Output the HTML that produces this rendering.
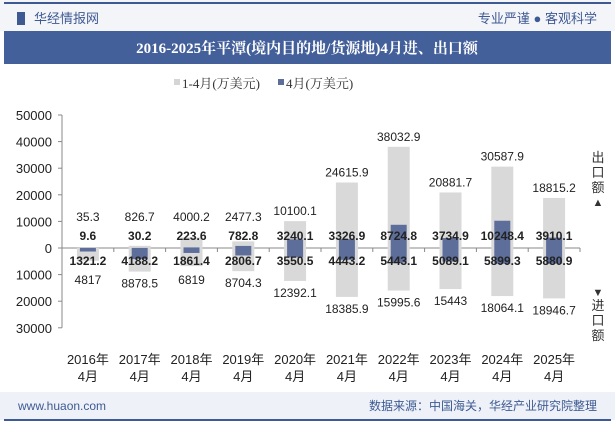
<!DOCTYPE html>
<html><head><meta charset="utf-8"><style>
body{margin:0;width:615px;height:427px;overflow:hidden;background:#fff;font-family:"Liberation Sans","Noto Sans CJK SC",sans-serif;}
</style></head><body>
<svg width="615" height="427" xmlns="http://www.w3.org/2000/svg" font-family="Liberation Sans, Noto Sans CJK SC, sans-serif">
<rect x="0" y="0" width="615" height="31" fill="#f4f5f9"/>
<rect x="4" y="2" width="607" height="2" fill="#3e5a93"/>
<rect x="17" y="12" width="8" height="13" fill="#3e5a93"/>
<text x="34" y="23" font-size="13" fill="#3e5a93">华经情报网</text>
<text x="597" y="23" font-size="13" fill="#3e5a93" text-anchor="end">专业严谨 ● 客观科学</text>
<rect x="4" y="31" width="607" height="33" fill="#44609a"/>
<text x="307" y="53" font-size="15" font-weight="bold" fill="#fff" text-anchor="middle" font-family="Liberation Serif, Noto Serif CJK SC, serif">2016-2025年平潭(境内目的地/货源地)4月进、出口额</text>
<rect x="174" y="79" width="6" height="6" fill="#d5d5d5"/>
<text x="182" y="88" font-size="13" fill="#333" font-family="Liberation Serif, Noto Serif CJK SC, serif">1-4月(万美元)</text>
<rect x="278" y="79" width="6" height="6" fill="#5d6e9b"/>
<text x="286" y="88" font-size="13" fill="#333" font-family="Liberation Serif, Noto Serif CJK SC, serif">4月(万美元)</text>
<g id="chart"></g>
<text font-size="13" fill="#333" text-anchor="middle"><tspan x="598" y="162">出</tspan><tspan x="598" y="177">口</tspan><tspan x="598" y="192">额</tspan><tspan x="598" y="206" font-size="11">▲</tspan></text>
<text font-size="13" fill="#333" text-anchor="middle"><tspan x="598" y="296" font-size="11">▼</tspan><tspan x="598" y="310">进</tspan><tspan x="598" y="325">口</tspan><tspan x="598" y="340">额</tspan></text>
<rect x="0" y="392" width="615" height="28" fill="#eef1f7"/>
<rect x="4" y="419" width="607" height="2" fill="#3e5a93"/>
<text x="18" y="410" font-size="12" fill="#3e5a93">www.huaon.com</text>
<text x="597" y="410" font-size="12" fill="#3e5a93" text-anchor="end">数据来源：中国海关，华经产业研究院整理</text>
</svg>
<script>
const categories=["2016年","2017年","2018年","2019年","2020年","2021年","2022年","2023年","2024年","2025年"];
const ytdExport=[35.3,826.7,4000.2,2477.3,10100.1,24615.9,38032.9,20881.7,30587.9,18815.2];
const ytdImport=[4817,8878.5,6819,8704.3,12392.1,18385.9,15995.6,15443,18064.1,18946.7];
const monExport=[9.6,30.2,223.6,782.8,3240.1,3326.9,8724.8,3734.9,10248.4,3910.1];
const monImport=[1321.2,4188.2,1861.4,2806.7,3550.5,4443.2,5443.1,5089.1,5899.3,5880.9];
const yTicks=[50000,40000,30000,20000,10000,0,-10000,-20000,-30000];
const NS="http://www.w3.org/2000/svg",g=document.getElementById('chart');
const y0=248,k=26.6/10000,x0=62,step=51.8;
const Y=v=>y0-v*k, X=i=>x0+step*(i+0.5);
function mk(t,a,txt){const e=document.createElementNS(NS,t);for(const n in a)e.setAttribute(n,a[n]);if(txt!=null)e.textContent=txt;g.appendChild(e);return e;}
let e=mk('line',{x1:x0,y1:Y(50000),x2:x0,y2:Y(-30000),stroke:'#888'});

yTicks.forEach(t=>{let l=mk('line',{x1:x0-4,x2:x0,y1:Y(t),y2:Y(t),stroke:'#888'});

let s=mk('text',{x:x0-10,y:Y(t)+5,'font-size':13,fill:'#222','text-anchor':'end'},String(Math.abs(t)));
});
e=mk('line',{x1:x0,y1:y0,x2:x0+step*10,y2:y0,stroke:'#888'});

categories.forEach((c,i)=>{const cx=X(i);
let t=mk('line',{x1:x0+step*(i+1),x2:x0+step*(i+1),y1:y0,y2:y0+4,stroke:'#888'});

let b=mk('rect',{x:cx-11,y:Y(ytdExport[i]),width:22,height:Y(-ytdImport[i])-Y(ytdExport[i]),fill:'#d9d9d9'});

let m=mk('rect',{x:cx-8,y:Y(monExport[i]),width:16,height:Y(-monImport[i])-Y(monExport[i]),fill:'#5d6e9b'});

const lab=(y,v,bold,n)=>{let s=mk('text',{x:cx,y:y,'font-size':12,fill:'#222','text-anchor':'middle','font-weight':bold?'bold':'normal'},String(v));
};
lab(Math.min(Y(ytdExport[i])-6,221),ytdExport[i],false,'label-ytd-export');
lab(240,monExport[i],true,'label-month-export');
lab(265,monImport[i],true,'label-month-import');
lab(Math.max(Y(-ytdImport[i])+16,284),ytdImport[i],false,'label-ytd-import');
let a=mk('text',{x:cx,y:364,'font-size':13,fill:'#222','text-anchor':'middle'},c);

let b2=mk('text',{x:cx,y:381,'font-size':13,fill:'#222','text-anchor':'middle'},'4月');

});
</script>
</body></html>
